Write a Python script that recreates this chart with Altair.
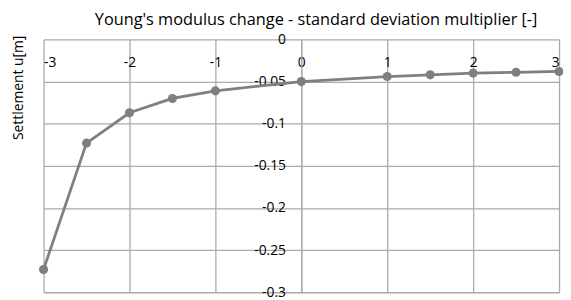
import altair as alt
import pandas as pd

multiplier = [-3, -2.5, -2, -1.5, -1, 0, 1, 1.5, 2, 2.5, 3]
settlement = [-0.273, -0.123, -0.087, -0.070, -0.061, -0.050, -0.044, -0.042, -0.040, -0.039, -0.038]
x_ticks = [-3, -2, -1, 0, 1, 2, 3]
y_ticks = [0, -0.05, -0.1, -0.15, -0.2, -0.25, -0.3]
chart_title = "Young's modulus change - standard deviation multiplier [-]"
y_title = "Settlement u[m]"

df = pd.DataFrame({"x": multiplier, "y": settlement})
FONT = "Open Sans"
GRID = "#aaaaaa"
LINE = "#7f7f7f"

x_enc = alt.X("x:Q", scale=alt.Scale(domain=[-3, 3], nice=False, zero=False),
              axis=alt.Axis(orient="bottom", offset=-256, values=x_ticks, title=None,
                            grid=True, gridColor=GRID, gridWidth=1.3,
                            domain=False, ticks=False,
                            labelPadding=16, labelFont=FONT, labelFontSize=14,
                            labelColor="#000000", labelExpr="'' + datum.value"))
y_enc = alt.Y("y:Q", scale=alt.Scale(domain=[-0.3, 0], nice=False, zero=False),
              axis=alt.Axis(orient="left", offset=-261, values=y_ticks, title=None,
                            grid=True, gridColor=GRID, gridWidth=1.3,
                            domain=True, domainColor=GRID, domainWidth=1.3, ticks=False,
                            labelPadding=16, labelFont=FONT, labelFontSize=14,
                            labelColor="#000000", labelExpr="'' + datum.value"))

line = alt.Chart(df).mark_line(color=LINE, strokeWidth=2.8).encode(x=x_enc, y=y_enc)
pts = alt.Chart(df).mark_point(filled=True, color=LINE, size=85, opacity=1).encode(x="x:Q", y="y:Q")

lab = pd.DataFrame({"t": [chart_title]})
title_mark = alt.Chart(lab).mark_text(font=FONT, fontSize=16.5, color="#000000",
                                       baseline="alphabetic", align="center").encode(
    x=alt.value(276), y=alt.value(-15), text="t:N")
ylab = pd.DataFrame({"t": [y_title]})
ytitle_mark = alt.Chart(ylab).mark_text(font=FONT, fontSize=14, color="#000000",
                                         angle=270, baseline="middle", align="center").encode(
    x=alt.value(-25), y=alt.value(49), text="t:N")

chart = alt.layer(line, pts, title_mark, ytitle_mark).properties(
    width=522, height=256,
    autosize=alt.AutoSizeParams(type="none"),
    padding={"left": 36, "top": 30, "right": 4, "bottom": 6},
).configure_view(stroke=None)

chart.save("out.html", embed_options={"renderer": "svg", "actions": False})
